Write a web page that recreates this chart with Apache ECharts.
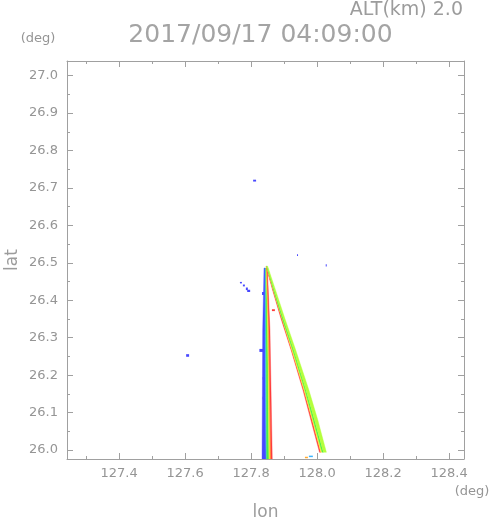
<!DOCTYPE html>
<html>
<head>
<meta charset="utf-8">
<script src="https://cdn.jsdelivr.net/npm/echarts@6/dist/echarts.min.js"></script>
<style>html,body{margin:0;padding:0;background:#fff;}#c{width:491px;height:521px;}</style>
</head>
<body>
<div id="c"></div>
<script>
// ---- axis ticks / labels ----
const xMajor = [127.4, 127.6, 127.8, 128.0, 128.2, 128.4];
const xMinor = [127.3, 127.5, 127.7, 127.9, 128.1, 128.3];
const yMajor = [26.0, 26.1, 26.2, 26.3, 26.4, 26.5, 26.6, 26.7, 26.8, 26.9, 27.0];
const yMinor = [26.05, 26.15, 26.25, 26.35, 26.45, 26.55, 26.65, 26.75, 26.85, 26.95];
const xRange = [127.242, 128.445];
const yRange = [25.976, 27.039];

// ---- echo levels -> colours (0 blue .. 6 red) ----
const palette = ['#4848ff', '#3cb4ff', '#48f048', '#b4ff3c', '#ffee3c', '#ffaa32', '#ff3c3c'];

// ---- north-south column (band edges in lon at given lat rows) ----
const colLat = [26.486, 26.320, 25.976];
const colEdges = [
  [127.839, 127.835, 127.833],
  [127.842, 127.842, 127.845],
  [127.844, 127.845, 127.847],
  [127.846, 127.850, 127.854],
  [127.847, 127.852, 127.857],
  [127.848, 127.854, 127.860],
  [127.849, 127.857, 127.864]
];
const colLevels = [0, 1, 2, 4, 5, 6];

// ---- diagonal strip ----
const diagLat = [26.491, 26.427, 26.352, 26.267, 26.160, 26.080, 25.994];
const diagEdges = [
  [127.845, 127.865, 127.890, 127.921, 127.957, 127.981, 128.007],
  [127.846, 127.867, 127.893, 127.923, 127.960, 127.985, 128.011],
  [127.847, 127.868, 127.894, 127.926, 127.963, 127.988, 128.015],
  [127.848, 127.870, 127.897, 127.929, 127.966, 127.992, 128.019],
  [127.850, 127.874, 127.902, 127.935, 127.975, 128.002, 128.028]
];
const diagLevels = [6, 4, 2, 3];

// ---- isolated echoes [lon0, lat0, lon1, lat1, level] ----
const specks = [
  [127.806, 26.722, 127.815, 26.717, 0],
  [127.939, 26.523, 127.942, 26.518, 0],
  [128.026, 26.496, 128.029, 26.490, 0],
  [127.603, 26.256, 127.612, 26.249, 0],
  [127.766, 26.449, 127.772, 26.445, 0],
  [127.775, 26.442, 127.781, 26.437, 0],
  [127.784, 26.434, 127.790, 26.427, 0],
  [127.788, 26.428, 127.797, 26.422, 0],
  [127.825, 26.270, 127.836, 26.262, 0],
  [127.835, 26.195, 127.842, 26.188, 0],
  [127.835, 26.142, 127.842, 26.135, 0],
  [127.833, 26.422, 127.839, 26.414, 0],
  [127.863, 26.376, 127.872, 26.371, 6],
  [127.963, 25.982, 127.972, 25.978, 5],
  [127.975, 25.985, 127.987, 25.981, 1]
];

function bandPoints(api, lats, left, right) {
  const pts = [];
  for (let k = 0; k < lats.length; k++) pts.push(api.coord([left[k], lats[k]]));
  for (let k = lats.length - 1; k >= 0; k--) pts.push(api.coord([right[k], lats[k]]));
  return pts;
}

function bandSeries(lats, edges, levels) {
  return {
    type: 'custom', xAxisIndex: 0, yAxisIndex: 0, clip: true,
    data: levels.map((lv, i) => [edges[i][0], lats[0], i, lv]),
    encode: { x: 0, y: 1 },
    renderItem: function (params, api) {
      const i = api.value(2);
      const col = palette[api.value(3)];
      return {
        type: 'polygon',
        shape: { points: bandPoints(api, lats, edges[i], edges[i + 1]) },
        style: { fill: col, stroke: col, lineWidth: 0.4 }
      };
    }
  };
}

const gray = '#959595';
const lineGray = '#a0a0a0';
const font = 'DejaVu Sans';

function xAxisDef(pos, ticks, len, showLine, labels) {
  return {
    type: 'value', position: pos, min: xRange[0], max: xRange[1],
    axisLine: { show: showLine, onZero: false, lineStyle: { color: lineGray, width: 1 } },
    axisTick: { show: true, inside: true, length: len, customValues: ticks, lineStyle: { color: lineGray } },
    axisLabel: labels ? { show: true, customValues: ticks, margin: 8, color: gray, fontFamily: font, fontSize: 13,
      formatter: v => Number(v).toFixed(1) } : { show: false },
    splitLine: { show: false }
  };
}
function yAxisDef(pos, ticks, len, showLine, labels) {
  return {
    type: 'value', position: pos, min: yRange[0], max: yRange[1],
    axisLine: { show: showLine, onZero: false, lineStyle: { color: lineGray, width: 1 } },
    axisTick: { show: true, inside: true, length: len, customValues: ticks, lineStyle: { color: lineGray } },
    axisLabel: labels ? { show: true, customValues: ticks, margin: 9, color: gray, fontFamily: font, fontSize: 13,
      formatter: v => Number(v).toFixed(1) } : { show: false },
    splitLine: { show: false }
  };
}

const chart = echarts.init(document.getElementById('c'));
chart.setOption({
  animation: false,
  backgroundColor: '#fff',
  grid: { left: 67, right: 27, top: 61, bottom: 62, containLabel: false },
  xAxis: [
    xAxisDef('bottom', xMajor, 6, true, true),
    xAxisDef('bottom', xMinor, 3, false, false),
    xAxisDef('top', xMajor, 6, true, false),
    xAxisDef('top', xMinor, 3, false, false)
  ],
  yAxis: [
    yAxisDef('left', yMajor, 6, true, true),
    yAxisDef('left', yMinor, 3, false, false),
    yAxisDef('right', yMajor, 6, true, false),
    yAxisDef('right', yMinor, 3, false, false)
  ],
  graphic: [
    { type: 'text', right: 28, top: 1, style: { text: 'ALT(km) 2.0', fill: '#9c9c9c', font: '19px "DejaVu Sans"' } },
    { type: 'text', x: 260.5, y: 35, style: { text: '2017/09/17 04:09:00', fill: '#a4a4a4', font: '25px "DejaVu Sans"', align: 'center', verticalAlign: 'middle' } },
    { type: 'text', x: 38, y: 39, style: { text: '(deg)', fill: gray, font: '13px "DejaVu Sans"', align: 'center', verticalAlign: 'middle' } },
    { type: 'text', x: 472, y: 492, style: { text: '(deg)', fill: gray, font: '13px "DejaVu Sans"', align: 'center', verticalAlign: 'middle' } },
    { type: 'text', x: 265.5, y: 513, style: { text: 'lon', fill: '#9c9c9c', font: '17px "DejaVu Sans"', align: 'center', verticalAlign: 'middle' } },
    { type: 'text', x: 13, y: 260, rotation: Math.PI / 2, style: { text: 'lat', fill: '#9c9c9c', font: '17px "DejaVu Sans"', align: 'center', verticalAlign: 'middle' } }
  ],
  series: [
    bandSeries(colLat, colEdges, colLevels),
    bandSeries(diagLat, diagEdges, diagLevels),
    {
      type: 'custom', xAxisIndex: 0, yAxisIndex: 0, clip: true,
      data: specks,
      encode: { x: 0, y: 1 },
      renderItem: function (params, api) {
        const p0 = api.coord([api.value(0), api.value(1)]);
        const p1 = api.coord([api.value(2), api.value(3)]);
        const col = palette[api.value(4)];
        return {
          type: 'rect',
          shape: { x: Math.min(p0[0], p1[0]), y: Math.min(p0[1], p1[1]),
                   width: Math.max(1, Math.abs(p1[0] - p0[0])), height: Math.max(1, Math.abs(p1[1] - p0[1])) },
          style: { fill: col }
        };
      }
    }
  ]
});
</script>
</body>
</html>
